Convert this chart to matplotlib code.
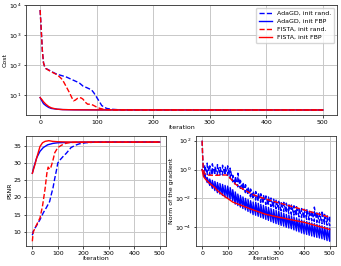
import matplotlib
matplotlib.use("Agg")
import matplotlib.pyplot as plt

# ---- cost ----
cost_it_ada_rand = [0, 2, 4, 6, 8, 10, 15, 20, 25, 30, 35, 40, 47, 55, 65, 70, 76, 82, 91, 95,
                    100, 105, 109, 114, 118, 125, 135, 150, 200, 500]
cost_ada_rand = [7000, 1500, 300, 120, 90, 78, 70, 62, 55, 50, 47, 44, 40, 34, 28, 25, 20, 18, 15, 12,
                 8.5, 6, 4.5, 3.9, 3.6, 3.4, 3.3, 3.22, 3.2, 3.2]
cost_it_fista_rand = [0, 2, 4, 6, 8, 10, 15, 20, 25, 30, 35, 38, 42, 47, 52, 56, 59, 62, 66, 70,
                      73, 76, 80, 84, 90, 95, 100, 106, 112, 118, 130, 200, 500]
cost_fista_rand = [7000, 1500, 300, 120, 90, 78, 68, 60, 54, 48, 40, 35, 27, 18, 12, 8.3, 6.5, 6.8, 7.8, 8.3,
                   8.0, 7.3, 5.8, 5.0, 5.0, 4.5, 4.0, 3.6, 3.4, 3.3, 3.22, 3.2, 3.2]
cost_it_ada_fbp = [0, 3, 6, 10, 15, 20, 30, 40, 60, 100, 500]
cost_ada_fbp = [8.3, 6.5, 5.2, 4.5, 3.9, 3.6, 3.4, 3.3, 3.25, 3.22, 3.2]
cost_it_fista_fbp = [0, 3, 6, 10, 15, 20, 30, 40, 60, 100, 500]
cost_fista_fbp = [8.3, 7.2, 6.0, 5.0, 4.2, 3.75, 3.4, 3.3, 3.25, 3.22, 3.2]

# ---- PSNR ----
psnr_it_ada_rand = [0, 3, 10, 20, 30, 43, 55, 68, 75, 81, 88, 95, 100, 110, 122, 133, 152, 170, 185,
                    210, 250, 500]
psnr_ada_rand = [9.0, 10.0, 11.0, 12.2, 13.5, 15.5, 17.0, 18.8, 21.0, 22.7, 25.5, 28.0, 30.0, 31.0,
                 32.0, 32.8, 34.5, 35.2, 35.6, 35.9, 36.1, 36.1]
psnr_it_ada_fbp = [0, 4, 10, 17, 30, 43, 60, 80, 100, 150, 200, 500]
psnr_ada_fbp = [27.0, 28.3, 29.8, 31.5, 33.4, 34.5, 35.3, 35.7, 35.9, 36.0, 36.1, 36.1]
psnr_it_fista_rand = [0, 3, 10, 20, 30, 40, 50, 57, 62, 68, 73, 80, 88, 100, 115, 130, 150, 500]
psnr_fista_rand = [7.2, 9.8, 11.0, 12.5, 14.0, 17.5, 22.5, 27.0, 28.8, 28.2, 28.8, 30.5, 33.0, 34.5,
                   35.2, 35.7, 36.0, 36.1]
psnr_it_fista_fbp = [0, 4, 10, 17, 30, 40, 50, 65, 80, 100, 150, 500]
psnr_fista_fbp = [27.0, 28.0, 29.5, 31.5, 34.8, 35.9, 36.3, 36.5, 36.3, 36.2, 36.1, 36.1]

# ---- gradient norm ----
# AdaGD restarts: value just before each jump (trough) and right after it (peak)
spike_it = list(range(10, 501, 10))

grad_head_it_ada_rand = [0, 2, 4, 6, 8]
grad_head_ada_rand = [100, 10, 1.6, 1.0, 0.63]
grad_trough_ada_rand = [0.5, 0.45, 0.42, 0.42, 0.42, 0.42, 0.42, 0.42, 0.42, 0.4,
                        0.25, 0.14, 0.089, 0.063, 0.05, 0.035, 0.025, 0.018, 0.0126, 8.9e-3,
                        7.6e-3, 6.3e-3, 5.4e-3, 4.5e-3, 3.8e-3, 3.2e-3, 2.7e-3, 2.2e-3, 1.9e-3, 1.6e-3,
                        1.4e-3, 1.2e-3, 1.05e-3, 9.1e-4, 7.9e-4, 6.9e-4, 6.0e-4, 5.2e-4, 4.6e-4, 4.0e-4,
                        3.5e-4, 3.2e-4, 2.8e-4, 2.5e-4, 2.2e-4, 2.0e-4, 1.8e-4, 1.6e-4, 1.4e-4, 1.26e-4]
grad_peak_ada_rand = [2.0, 2.8, 1.8, 2.5, 1.6, 2.2, 1.4, 2.0, 1.6, 1.8,
                      1.26, 0.4, 0.35, 0.56, 0.18, 0.126, 0.089, 0.063, 0.045, 0.032,
                      0.030, 0.025, 0.021, 0.018, 0.015, 0.0126, 0.0107, 8.9e-3, 7.6e-3, 6.3e-3,
                      6.2e-3, 5.4e-3, 4.7e-3, 4.1e-3, 3.5e-3, 3.1e-3, 2.7e-3, 2.3e-3, 2.0e-3, 1.8e-3,
                      1.8e-3, 1.6e-3, 1.4e-3, 2.5e-3, 1.1e-3, 1.0e-3, 1.4e-3, 7.9e-4, 7.1e-4, 6.3e-4]

grad_head_it_ada_fbp = [0]
grad_head_ada_fbp = [1.0]
grad_trough_ada_fbp = [0.28, 0.126, 0.079, 0.05, 0.035, 0.025, 0.02, 0.016, 0.0126, 0.0112,
                       8.9e-3, 7.1e-3, 4.0e-3, 3.2e-3, 2.5e-3, 2.0e-3, 1.6e-3, 1.26e-3, 1.0e-3, 7.6e-4,
                       6.8e-4, 5.8e-4, 4.9e-4, 4.2e-4, 3.5e-4, 3.0e-4, 2.5e-4, 2.1e-4, 1.8e-4, 1.6e-4,
                       1.35e-4, 1.2e-4, 1.0e-4, 8.9e-5, 7.9e-5, 6.6e-5, 5.6e-5, 4.8e-5, 4.0e-5, 3.5e-5,
                       3.2e-5, 2.8e-5, 2.5e-5, 2.2e-5, 2.0e-5, 1.8e-5, 1.6e-5, 1.4e-5, 1.2e-5, 1.07e-5]
grad_peak_ada_fbp = [0.5, 0.28, 0.22, 0.18, 0.15, 0.126, 0.107, 0.093, 0.079, 0.071,
                     0.056, 0.04, 0.028, 0.02, 0.016, 0.0126, 0.01, 8.3e-3, 6.9e-3, 5.6e-3,
                     5.4e-3, 4.6e-3, 3.9e-3, 3.3e-3, 2.8e-3, 2.4e-3, 2.0e-3, 1.7e-3, 1.45e-3, 1.26e-3,
                     1.07e-3, 9.3e-4, 7.9e-4, 7.1e-4, 6.3e-4, 5.2e-4, 4.5e-4, 3.8e-4, 3.2e-4, 2.75e-4,
                     2.5e-4, 2.2e-4, 2.0e-4, 1.8e-4, 1.6e-4, 1.4e-4, 1.26e-4, 1.1e-4, 9.5e-5, 8.5e-5]

grad_it_fista_rand = [0, 2, 4, 6, 8, 10, 20, 40, 60, 80, 95, 100, 110, 120, 130, 150, 175, 200,
                      250, 300, 350, 400, 450, 500]
grad_fista_rand = [100, 10, 1.6, 1.0, 0.63, 0.5, 0.42, 0.4, 0.4, 0.42, 0.42, 0.38, 0.25, 0.16, 0.1,
                   0.056, 0.032, 0.018, 8.9e-3, 5.0e-3, 2.8e-3, 1.6e-3, 8.9e-4, 5.0e-4]
grad_it_fista_fbp = [0, 5, 10, 20, 30, 40, 50, 60, 70, 80, 90, 100, 120, 150, 200, 250, 300, 350,
                     400, 450, 500]
grad_fista_fbp = [1.0, 0.35, 0.25, 0.16, 0.11, 0.079, 0.056, 0.035, 0.025, 0.018, 0.013, 0.01,
                  5.6e-3, 3.5e-3, 1.6e-3, 7.9e-4, 5.0e-4, 3.3e-4, 2.2e-4, 1.26e-4, 7.1e-5]

labels = ["AdaGD, init rand.", "AdaGD, init FBP", "FISTA, init rand.", "FISTA, init FBP"]
styles = [("blue", "--"), ("blue", "-"), ("red", "--"), ("red", "-")]


def sawtooth(head_it, head_val, its, lows, highs):
    xs, ys = list(head_it), list(head_val)
    for it, lo, hi in zip(its, lows, highs):
        xs += [it, it]
        ys += [lo, hi]
    return xs, ys


plt.rcParams["font.size"] = 4.5
plt.rcParams["axes.linewidth"] = 0.6
plt.rcParams["axes.edgecolor"] = "#333333"
plt.rcParams["xtick.major.width"] = 0.5
plt.rcParams["ytick.major.width"] = 0.5
plt.rcParams["xtick.major.size"] = 1.8
plt.rcParams["ytick.major.size"] = 1.8
plt.rcParams["xtick.major.pad"] = 1.5
plt.rcParams["ytick.major.pad"] = 1.5
plt.rcParams["axes.labelpad"] = 1

fig = plt.figure(figsize=(3.41, 2.66), dpi=100)
ax_cost = fig.add_axes([0.0762, 0.5677, 0.912, 0.4135])
ax_psnr = fig.add_axes([0.0762, 0.074, 0.4106, 0.416])
ax_grad = fig.add_axes([0.574, 0.074, 0.4114, 0.416])

lw = 1.0

cost_data = [(cost_it_ada_rand, cost_ada_rand), (cost_it_ada_fbp, cost_ada_fbp),
             (cost_it_fista_rand, cost_fista_rand), (cost_it_fista_fbp, cost_fista_fbp)]
for (x, y), (c, ls), lab in zip(cost_data, styles, labels):
    ax_cost.plot(x, y, color=c, ls=ls, lw=lw, label=lab)
ax_cost.set_yscale("log")
ax_cost.set_ylabel("Cost")
ax_cost.set_xlabel("iteration", labelpad=0.2)
ax_cost.legend(loc="upper right", fontsize=4.5, handlelength=2.2, borderpad=0.45,
               labelspacing=0.45, borderaxespad=0.4)

psnr_data = [(psnr_it_ada_rand, psnr_ada_rand), (psnr_it_ada_fbp, psnr_ada_fbp),
             (psnr_it_fista_rand, psnr_fista_rand), (psnr_it_fista_fbp, psnr_fista_fbp)]
for (x, y), (c, ls) in zip(psnr_data, styles):
    ax_psnr.plot(x, y, color=c, ls=ls, lw=lw)
ax_psnr.set_ylabel("PSNR")
ax_psnr.set_xlabel("iteration", labelpad=0.2)

g_ada_rand = sawtooth(grad_head_it_ada_rand, grad_head_ada_rand, spike_it,
                      grad_trough_ada_rand, grad_peak_ada_rand)
g_ada_fbp = sawtooth(grad_head_it_ada_fbp, grad_head_ada_fbp, spike_it,
                     grad_trough_ada_fbp, grad_peak_ada_fbp)
grad_data = [g_ada_rand, g_ada_fbp, (grad_it_fista_rand, grad_fista_rand),
             (grad_it_fista_fbp, grad_fista_fbp)]
for (x, y), (c, ls) in zip(grad_data, styles):
    ax_grad.plot(x, y, color=c, ls=ls, lw=lw)
ax_grad.set_yscale("log")
ax_grad.set_yticks([1e-4, 1e-2, 1e0, 1e2])
ax_grad.minorticks_off()
ax_grad.set_ylabel("Norm of the gradient")
ax_grad.set_xlabel("iteration", labelpad=0.2)

for ax in (ax_cost, ax_psnr, ax_grad):
    ax.grid(True, lw=0.7, color="#c8c8c8")
    ax.tick_params(which="minor", length=0)
    ax.set_xticks([0, 100, 200, 300, 400, 500])

fig.savefig("out.png", dpi=100)
